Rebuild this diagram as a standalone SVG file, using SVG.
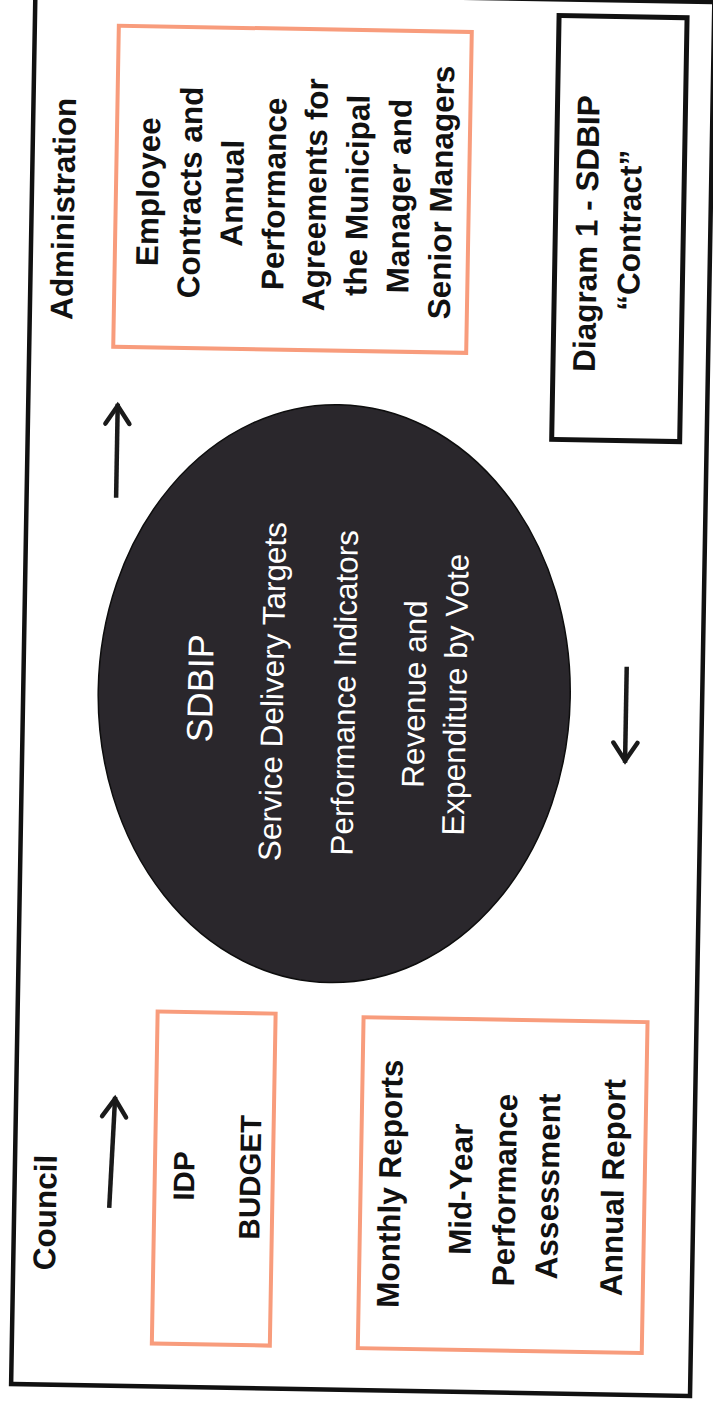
<svg xmlns="http://www.w3.org/2000/svg" width="713" height="1413" viewBox="0 0 713 1413">
<style>
.b{font-family:"Liberation Sans",Arial,sans-serif;font-weight:bold;font-size:31.5px;fill:#111;text-anchor:middle;dominant-baseline:central}
.w{font-family:"Liberation Sans",Arial,sans-serif;font-size:31.5px;fill:#fff;text-anchor:middle;dominant-baseline:central}
.sal{fill:none;stroke:#F89C7C;stroke-width:4}
.blk{fill:none;stroke:#111;stroke-width:4.5}
.arr{stroke:#1a1a1a;stroke-width:4.5;fill:none;marker-end:url(#ah)}
</style>
<defs>
<marker id="ah" markerUnits="userSpaceOnUse" viewBox="-30 -15 34 30" markerWidth="34" markerHeight="30" refX="0" refY="0" orient="auto" overflow="visible">
<path d="M-20,-12 L-2,0 L-20,12" fill="none" stroke="#1a1a1a" stroke-width="4.5" stroke-linecap="round" stroke-linejoin="miter"/>
</marker>
</defs>
<rect width="713" height="1413" fill="#fff"/>
<g transform="rotate(1 356 706)">
<rect id="frame" x="23" y="-4" width="679" height="1394" class="blk"/>
<g id="administration"><text class="b" transform="translate(54.5,214) rotate(-90)">Administration</text></g>
<g id="agreements">
<rect x="107" y="30" width="353" height="321" class="sal"/>
<text class="b" transform="translate(285.5,191) rotate(-90)">
<tspan x="0" y="-146.5">Employee</tspan>
<tspan x="0" y="-104.5">Contracts and</tspan>
<tspan x="0" y="-62.5">Annual</tspan>
<tspan x="0" y="-20.5">Performance</tspan>
<tspan x="0" y="20.5">Agreements for</tspan>
<tspan x="0" y="62.5">the Municipal</tspan>
<tspan x="0" y="104.5">Manager and</tspan>
<tspan x="0" y="146.5">Senior Managers</tspan>
</text>
</g>
<g id="caption">
<rect x="547" y="12" width="128" height="424" fill="none" stroke="#111" stroke-width="5"/>
<text class="b" transform="translate(599.5,225.6) rotate(-90)">
<tspan x="0" y="-21.5">Diagram 1 - SDBIP</tspan>
<tspan x="0" y="21.5">“Contract”</tspan>
</text>
</g>
<g id="sdbip">
<ellipse cx="334" cy="694" rx="236" ry="289" fill="#2a272c" stroke="#0d0d0d" stroke-width="1.5"/>
<text class="w" style="font-size:36px" transform="translate(200,691) rotate(-90)">SDBIP</text>
<text class="w" transform="translate(272,693) rotate(-90)">Service Delivery Targets</text>
<text class="w" transform="translate(344,693) rotate(-90)">Performance Indicators</text>
<text class="w" transform="translate(414,693) rotate(-90)">Revenue and</text>
<text class="w" transform="translate(455,693) rotate(-90)">Expenditure by Vote</text>
</g>
<g id="council"><text class="b" transform="translate(53.8,1218) rotate(-90)">Council</text></g>
<g id="idp-budget">
<rect x="163" y="1015" width="118" height="332" class="sal"/>
<text class="b" style="font-size:29.5px" transform="translate(192,1179) rotate(-90)">IDP</text>
<text class="b" style="font-size:29.5px" transform="translate(258,1179) rotate(-90)">BUDGET</text>
</g>
<g id="reports">
<rect x="369" y="1017" width="284" height="331" class="sal"/>
<text class="b" transform="translate(398,1183) rotate(-90)">Monthly Reports</text>
<text class="b" transform="translate(511,1183) rotate(-90)">
<tspan x="0" y="-42">Mid-Year</tspan>
<tspan x="0" y="2">Performance</tspan>
<tspan x="0" y="45">Assessment</tspan>
</text>
<text class="b" transform="translate(621,1183) rotate(-90)">Annual Report</text>
</g>
<g id="connectors">
<line x1="112.5" y1="502" x2="112.5" y2="408" class="arr"/>
<line x1="626" y1="662" x2="626" y2="758" class="arr"/>
<line x1="118" y1="1212" x2="122" y2="1101" class="arr"/>
</g>
</g>
</svg>
